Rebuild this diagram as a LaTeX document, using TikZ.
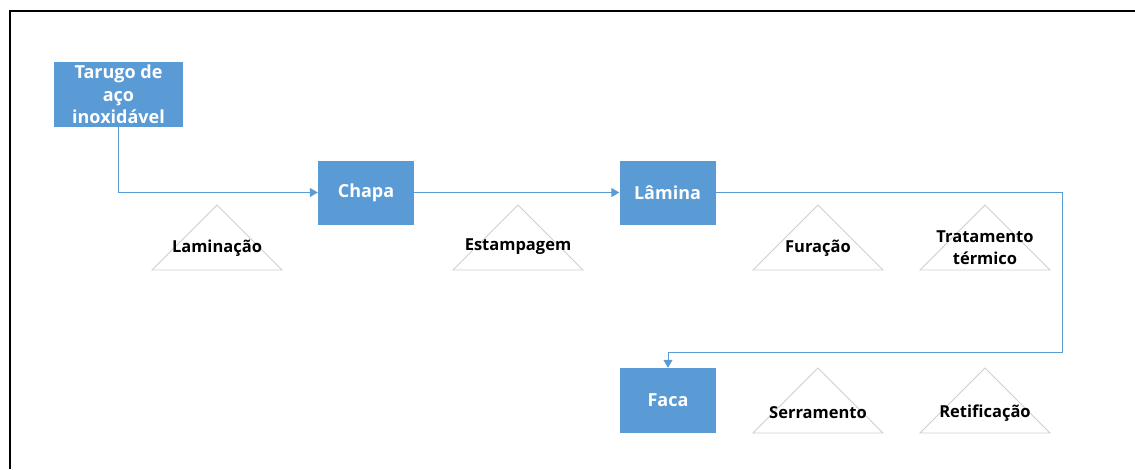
\documentclass[tikz,border=0pt]{standalone}
\usepackage{fontspec}
\setmainfont{Open Sans}
\usetikzlibrary{arrows.meta,positioning}
\definecolor{flowblue}{HTML}{5B9BD5}
\definecolor{trigray}{HTML}{CFCFCF}
\tikzstyle{stage}=[
    rectangle,
    fill=flowblue,
    text=white,
    minimum width=96pt,
    minimum height=64pt,
    align=center,
    inner sep=0pt,
    font=\bfseries\fontsize{18}{22.5}\selectfont
]
\tikzstyle{flow}=[line width=1pt,draw=flowblue,-{Triangle[length=8pt,width=9pt]}]
\begin{document}
\begin{tikzpicture}[
    x=1pt,y=-1pt,
    tri/.style={draw=trigray,line width=0.9pt,line join=miter},
    optext/.style={font=\bfseries\fontsize{16.5}{22}\selectfont,align=center,inner sep=0pt}
]
\useasboundingbox (0,0) rectangle (1135,469);
\draw[line width=1.6pt] (1135,11) -- (10,11) -- (10,469);
% main flow
\node[stage,minimum width=129pt,minimum height=65pt] (tarugo) at (118.5,94.5) {Tarugo de\\aço\\inoxidável};
\node[stage] (chapa) at (366,192.5) {Chapa};
\node[stage] (lamina) at (667.5,192.5) {Lâmina};
\node[stage,minimum height=65pt] (faca) at (668,400.5) {Faca};
\coordinate (bend) at (1062,352);
\draw[flow] (tarugo.south) |- (chapa.west);
\draw[flow] (chapa.east) -- (lamina.west);
\draw[flow] (lamina.east) -| (bend) -| (faca.north);
% operations
\draw[tri] (152,270) -- (217,205) -- (282,270) -- cycle;
\node[optext] (laminacao) at (217,248) {Laminação};
\draw[tri] (453,270) -- (518,205) -- (583,270) -- cycle;
\node[optext] (estampagem) at (518,247) {Estampagem};
\draw[tri] (753,270) -- (818,205) -- (883,270) -- cycle;
\node[optext] (furacao) at (818,248) {Furação};
\draw[tri] (920,270) -- (985,205) -- (1050,270) -- cycle;
\node[optext] (tratamento) at (985,248) {Tratamento\\térmico};
\draw[tri] (753,433) -- (818,368) -- (883,433) -- cycle;
\node[optext] (serramento) at (818,413) {Serramento};
\draw[tri] (920,433) -- (985,368) -- (1050,433) -- cycle;
\node[optext] (retificacao) at (985,413) {Retificação};
\end{tikzpicture}
\end{document}
